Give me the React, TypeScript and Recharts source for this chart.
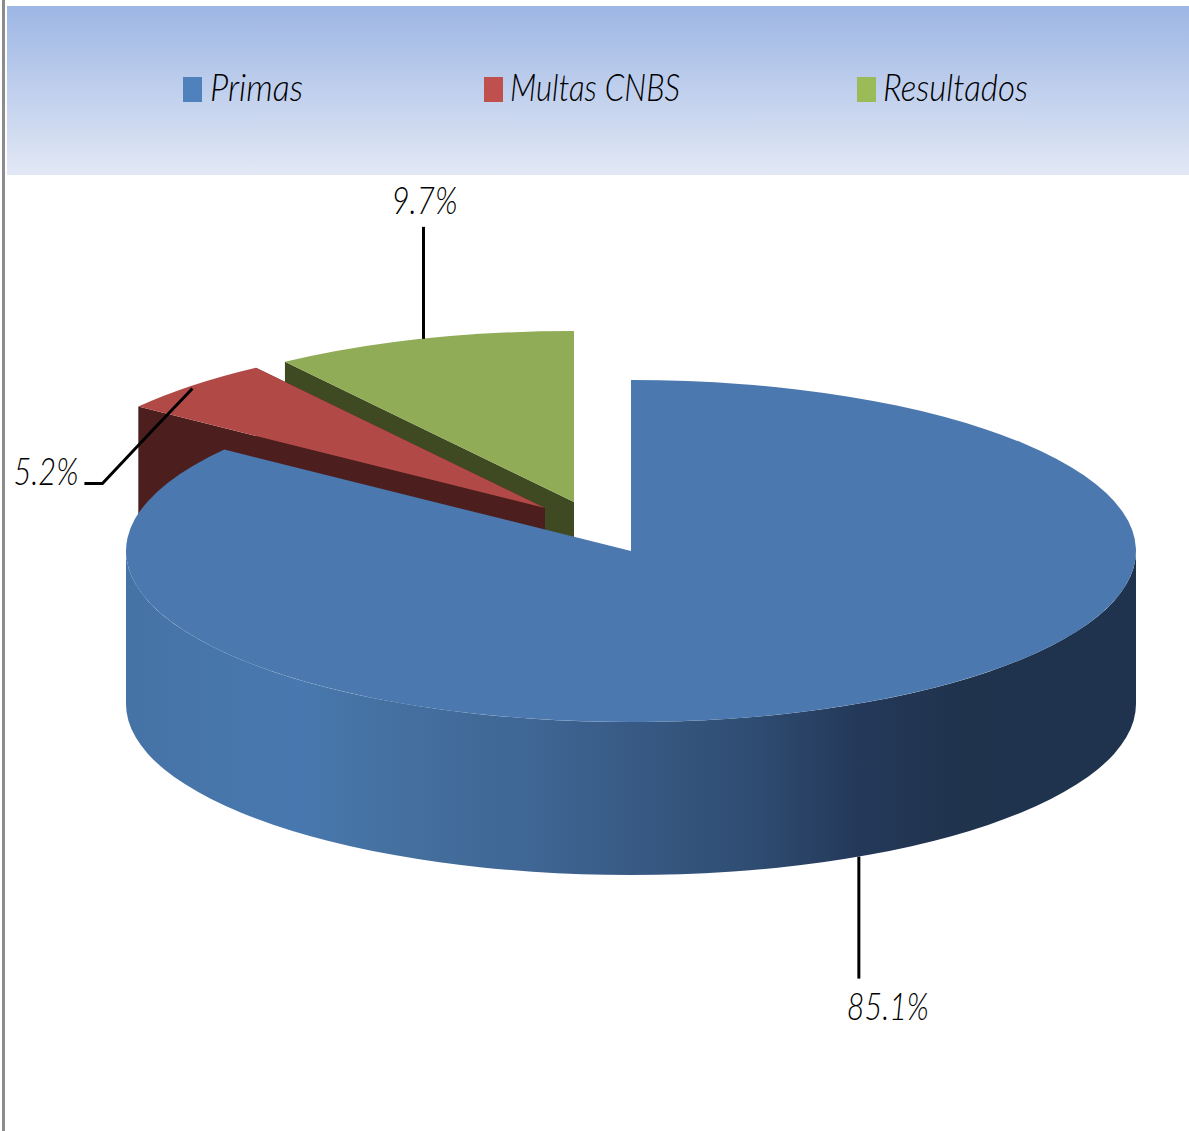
import React from "react";
import { PieChart, Pie, Legend } from "recharts";

// Drawing order is back to front, running counter-clockwise from 12 o'clock.
const names = ["Resultados", "Multas CNBS", "Primas"];
const shares = [9.7, 5.2, 85.1];
const legendOrder = ["Primas", "Multas CNBS", "Resultados"];

const rows = names.map((name, i) => ({ name, value: shares[i] }));

const W = 1189;
const H = 1131;
const SQUASH = 171 / 505;
const DEPTH = 153;
const FONT = "Lato, Carlito, sans-serif";

const looks: Record<string, any> = {
  Primas: { top: "#4A78AF", face: "#2f5480", key: "#4F81BD", dx: 0, dy: 0, keyX: 183, textX: 210, textW: 93, labelW: 82, leader: [[0, 0], [0, 122]], text: [-12, 163] },
  "Multas CNBS": { top: "#B14A47", face: "#4C1E1E", key: "#C0504D", dx: -86, dy: -43, keyX: 484, textX: 510, textW: 170, labelW: 65, leader: [[0, 3], [-42, 47], [-90, 98], [-108, 98]], text: [-179, 99] },
  Resultados: { top: "#90AC56", face: "#3F4A22", key: "#9BBB59", dx: -57, dy: -49, keyX: 857, textX: 883, textW: 145, labelW: 66, leader: [[1, 0], [1, -112]], text: [-31, -125] },
};

const rad = (a: number) => (a * Math.PI) / 180;

function Slice3D(props: any) {
  const { cx, cy, outerRadius, startAngle, endAngle, name } = props;
  const look = looks[name];
  const rx = outerRadius;
  const ry = outerRadius * SQUASH;
  const ox = cx + look.dx;
  const oy = cy + look.dy;
  const px = (a: number) => ox + rx * Math.cos(rad(a));
  const py = (a: number) => oy - ry * Math.sin(rad(a));
  const large = endAngle - startAngle > 180 ? 1 : 0;

  const top = `M${ox},${oy} L${px(startAngle)},${py(startAngle)} A${rx},${ry} 0 ${large} 0 ${px(endAngle)},${py(endAngle)} Z`;
  const cut = (a: number) =>
    `M${ox},${oy} L${px(a)},${py(a)} L${px(a)},${py(a) + DEPTH} L${ox},${oy + DEPTH} Z`;
  const hasFront = startAngle <= 180 && endAngle >= 360;
  const wall = `M${px(180)},${py(180)} A${rx},${ry} 0 0 0 ${px(360)},${py(360)} L${px(360)},${py(360) + DEPTH} A${rx},${ry} 0 0 1 ${px(180)},${py(180) + DEPTH} Z`;

  return (
    <g>
      {!hasFront && <path d={cut(startAngle)} fill={look.face} />}
      {!hasFront && <path d={cut(endAngle)} fill={look.face} />}
      {hasFront && (
        <>
          <defs>
            <linearGradient id="wallShade" gradientUnits="userSpaceOnUse" x1={cx - rx} x2={cx + rx} y1={0} y2={0}>
              <stop offset="0" stopColor="#4673A6" />
              <stop offset="0.17" stopColor="#4878AF" />
              <stop offset="0.27" stopColor="#44709F" />
              <stop offset="0.4" stopColor="#3F6694" />
              <stop offset="0.5" stopColor="#385A85" />
              <stop offset="0.618" stopColor="#2F4D72" />
              <stop offset="0.725" stopColor="#24395A" />
              <stop offset="0.826" stopColor="#20334D" />
              <stop offset="1" stopColor="#1F334E" />
            </linearGradient>
          </defs>
          <path d={wall} fill="url(#wallShade)" />
        </>
      )}
      <path d={top} fill={look.top} />
    </g>
  );
}

function SliceLabel(props: any) {
  const { cx, cy, outerRadius, midAngle, name, value } = props;
  const look = looks[name];
  const ax = cx + look.dx + outerRadius * Math.cos(rad(midAngle));
  let ay = cy + look.dy - outerRadius * SQUASH * Math.sin(rad(midAngle));
  if (Math.sin(rad(midAngle)) < 0) ay += DEPTH;
  const points = look.leader.map(([x, y]: number[]) => `${ax + x},${ay + y}`).join(" ");
  return (
    <g>
      <polyline points={points} fill="none" stroke="#000" strokeWidth={3} />
      <text
        x={ax + look.text[0]}
        y={ay + look.text[1]}
        fontFamily={FONT}
        fontStyle="italic"
        fontWeight={300}
        fontSize={37}
        fill="#000"
        textLength={look.labelW}
        lengthAdjust="spacingAndGlyphs"
      >
        {`${value.toFixed(1)}%`}
      </text>
    </g>
  );
}

function LegendBand() {
  return (
    <svg width={W} height={176} style={{ display: "block" }}>
      <defs>
        <linearGradient id="bandShade" x1="0" x2="0" y1="0" y2="1">
          <stop offset="0" stopColor="#9DB6E4" />
          <stop offset="1" stopColor="#E2E8F5" />
        </linearGradient>
      </defs>
      <rect x={7} y={6} width={W - 7} height={169} fill="url(#bandShade)" />
      {legendOrder.map((n) => (
        <g key={n}>
          <rect x={looks[n].keyX} y={77} width={19} height={25} fill={looks[n].key} />
          <text
            x={looks[n].textX}
            y={101}
            fontFamily={FONT}
            fontStyle="italic"
            fontWeight={300}
            fontSize={37}
            fill="#000"
            textLength={looks[n].textW}
            lengthAdjust="spacingAndGlyphs"
          >
            {n}
          </text>
        </g>
      ))}
    </svg>
  );
}

export default function App() {
  return (
    <div style={{ position: "absolute", left: 0, top: 0, width: W, height: H, background: "#fff", overflow: "hidden" }}>
      <div style={{ position: "absolute", left: 2, top: 0, width: 3, height: H, background: "#8C8C8C" }} />
      <PieChart width={W} height={H} margin={{ top: 0, right: 0, bottom: 0, left: 0 }}>
        <Legend
          content={<LegendBand />}
          wrapperStyle={{ position: "absolute", left: 0, top: 0, width: W, height: 176, margin: 0, padding: 0 }}
        />
        <Pie
          data={rows}
          dataKey="value"
          nameKey="name"
          cx={631}
          cy={551}
          innerRadius={0}
          outerRadius={505}
          startAngle={90}
          endAngle={450}
          stroke="none"
          isAnimationActive={false}
          shape={Slice3D}
          label={SliceLabel}
          labelLine={false}
        />
      </PieChart>
    </div>
  );
}
